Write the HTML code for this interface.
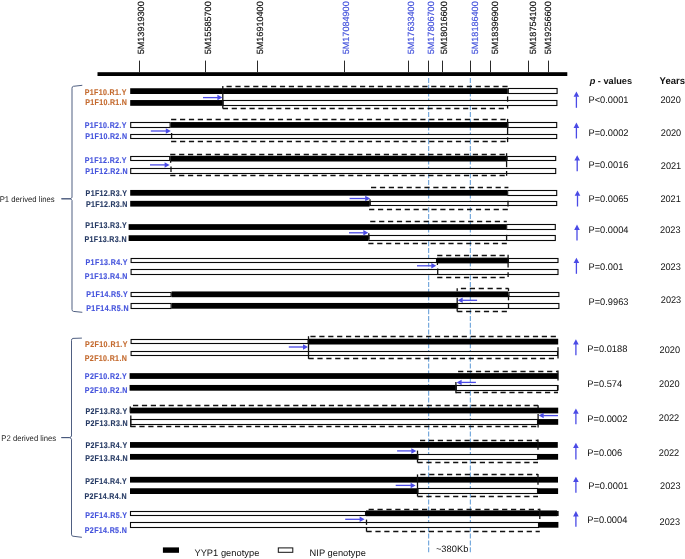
<!DOCTYPE html>
<html><head><meta charset="utf-8"><title>Genotype map</title>
<style>
html,body{margin:0;padding:0;background:#fff;}
body{width:685px;height:559px;overflow:hidden;}
svg{display:block;font-family:"Liberation Sans",Arial,sans-serif;text-rendering:geometricPrecision;}
</style></head><body>
<svg width="685" height="559" viewBox="0 0 685 559">
<rect width="685" height="559" fill="#fff"/>
<rect x="97.5" y="72.2" width="469.8" height="3.8" fill="#000"/>
<line x1="139.5" y1="60.6" x2="139.5" y2="72.4" stroke="#2a2a2a" stroke-width="1"/>
<text transform="translate(144.1 54.3) rotate(-90)" fill="#111" stroke="#111" stroke-width="0.15" font-size="9" textLength="53" lengthAdjust="spacingAndGlyphs">5M13919300</text>
<line x1="205.5" y1="60.6" x2="205.5" y2="72.4" stroke="#2a2a2a" stroke-width="1"/>
<text transform="translate(210.7 54.3) rotate(-90)" fill="#111" stroke="#111" stroke-width="0.15" font-size="9" textLength="53" lengthAdjust="spacingAndGlyphs">5M15585700</text>
<line x1="257.5" y1="60.6" x2="257.5" y2="72.4" stroke="#2a2a2a" stroke-width="1"/>
<text transform="translate(262.5 54.3) rotate(-90)" fill="#111" stroke="#111" stroke-width="0.15" font-size="9" textLength="53" lengthAdjust="spacingAndGlyphs">5M16910400</text>
<line x1="344.5" y1="60.6" x2="344.5" y2="72.4" stroke="#2a2a2a" stroke-width="1"/>
<text transform="translate(349.2 54.3) rotate(-90)" fill="#4352dc" stroke="#4352dc" stroke-width="0.15" font-size="9" textLength="53" lengthAdjust="spacingAndGlyphs">5M17084900</text>
<line x1="408.5" y1="60.6" x2="408.5" y2="72.4" stroke="#2a2a2a" stroke-width="1"/>
<text transform="translate(414.1 54.3) rotate(-90)" fill="#4352dc" stroke="#4352dc" stroke-width="0.15" font-size="9" textLength="53" lengthAdjust="spacingAndGlyphs">5M17633400</text>
<line x1="428.5" y1="60.6" x2="428.5" y2="72.4" stroke="#2a2a2a" stroke-width="1"/>
<text transform="translate(433.8 54.3) rotate(-90)" fill="#4352dc" stroke="#4352dc" stroke-width="0.15" font-size="9" textLength="53" lengthAdjust="spacingAndGlyphs">5M17806700</text>
<line x1="442.5" y1="60.6" x2="442.5" y2="72.4" stroke="#2a2a2a" stroke-width="1"/>
<text transform="translate(446.9 54.3) rotate(-90)" fill="#111" stroke="#111" stroke-width="0.15" font-size="9" textLength="53" lengthAdjust="spacingAndGlyphs">5M18016600</text>
<line x1="470.5" y1="60.6" x2="470.5" y2="72.4" stroke="#2a2a2a" stroke-width="1"/>
<text transform="translate(478.1 54.3) rotate(-90)" fill="#4352dc" stroke="#4352dc" stroke-width="0.15" font-size="9" textLength="53" lengthAdjust="spacingAndGlyphs">5M18186400</text>
<line x1="490.5" y1="60.6" x2="490.5" y2="72.4" stroke="#2a2a2a" stroke-width="1"/>
<text transform="translate(497.7 54.3) rotate(-90)" fill="#111" stroke="#111" stroke-width="0.15" font-size="9" textLength="53" lengthAdjust="spacingAndGlyphs">5M18396900</text>
<line x1="528.5" y1="60.6" x2="528.5" y2="72.4" stroke="#2a2a2a" stroke-width="1"/>
<text transform="translate(535.7 54.3) rotate(-90)" fill="#111" stroke="#111" stroke-width="0.15" font-size="9" textLength="53" lengthAdjust="spacingAndGlyphs">5M18754100</text>
<line x1="548.5" y1="60.6" x2="548.5" y2="72.4" stroke="#2a2a2a" stroke-width="1"/>
<text transform="translate(551.1 54.3) rotate(-90)" fill="#111" stroke="#111" stroke-width="0.15" font-size="9" textLength="53" lengthAdjust="spacingAndGlyphs">5M19256600</text>
<line x1="428.65" y1="78" x2="428.65" y2="552.6" stroke="#6aa2da" stroke-width="1.1" stroke-dasharray="5 1.8"/>
<line x1="470.35" y1="78" x2="470.35" y2="552.6" stroke="#6aa2da" stroke-width="1.1" stroke-dasharray="5 1.8"/>
<rect x="130.2" y="88.25" width="377.6" height="5.75" fill="#000"/>
<rect x="508.3" y="88.5" width="48.8" height="5" fill="#fff" stroke="#0a0a0a" stroke-width="1.1"/>
<rect x="130.2" y="100.05" width="92.4" height="5.75" fill="#000"/>
<rect x="223.1" y="100.5" width="333.8" height="5" fill="#fff" stroke="#0a0a0a" stroke-width="1.1"/>
<line x1="222.8" y1="86.5" x2="507.6" y2="86.5" stroke="#111" stroke-width="1.3" stroke-dasharray="5.2 3.7" stroke-dashoffset="5.2"/>
<line x1="222.8" y1="108.5" x2="507.6" y2="108.5" stroke="#111" stroke-width="1.3" stroke-dasharray="5.2 3.7" stroke-dashoffset="0"/>
<line x1="222.8" y1="86" x2="222.8" y2="108.6" stroke="#111" stroke-width="1.3"/>
<line x1="507.6" y1="96.4" x2="507.6" y2="101.7" stroke="#111" stroke-width="1.3"/>
<line x1="507.6" y1="105.2" x2="507.6" y2="108.6" stroke="#111" stroke-width="1.3"/>
<line x1="203" y1="97.6" x2="217.9" y2="97.6" stroke="#4a4ae6" stroke-width="1.3"/>
<path d="M222.4 97.6L217.4 94.85L217.4 100.35Z" fill="#4a4ae6"/>
<text transform="translate(84.7 94.9) scale(0.85 1)" fill="#c46a2e" stroke="#c46a2e" stroke-width="0.15" font-weight="bold" font-size="8.3" textLength="49.06">P1F10.R1.Y</text>
<text transform="translate(85.35 105) scale(0.85 1)" fill="#c46a2e" stroke="#c46a2e" stroke-width="0.15" font-weight="bold" font-size="8.3" textLength="48.88">P1F10.R1.N</text>
<line x1="576.4" y1="96.3" x2="576.4" y2="107.8" stroke="#4a4ae6" stroke-width="1.3"/>
<path d="M576.4 91.5L573.6 96.8L579.2 96.8Z" fill="#4a4ae6"/>
<text transform="translate(588.5 102.6) scale(0.968 1)" font-size="9.6" fill="#111">P<0.0001</text>
<text transform="translate(660.4 103.1) scale(0.96 1)" font-size="9.55" fill="#111">2020</text>
<rect x="130.7" y="122.5" width="39.4" height="5" fill="#fff" stroke="#0a0a0a" stroke-width="1.1"/>
<rect x="170.6" y="122.05" width="336.8" height="5.75" fill="#000"/>
<rect x="507.9" y="122.5" width="48.8" height="5" fill="#fff" stroke="#0a0a0a" stroke-width="1.1"/>
<rect x="130.7" y="134.5" width="426" height="4" fill="#fff" stroke="#0a0a0a" stroke-width="1.1"/>
<line x1="171.1" y1="119.5" x2="507.6" y2="119.5" stroke="#111" stroke-width="1.3" stroke-dasharray="5.2 3.7" stroke-dashoffset="0"/>
<line x1="171.1" y1="141.5" x2="507.6" y2="141.5" stroke="#111" stroke-width="1.3" stroke-dasharray="5.2 3.7" stroke-dashoffset="0"/>
<line x1="171.6" y1="133" x2="171.6" y2="138.6" stroke="#111" stroke-width="1.3"/>
<line x1="507.6" y1="118.9" x2="507.6" y2="134.3" stroke="#111" stroke-width="1.3"/>
<line x1="507.6" y1="137.3" x2="507.6" y2="142.1" stroke="#111" stroke-width="1.3"/>
<line x1="150.8" y1="131" x2="166.3" y2="131" stroke="#4a4ae6" stroke-width="1.3"/>
<path d="M170.8 131L165.8 128.25L165.8 133.75Z" fill="#4a4ae6"/>
<text transform="translate(84.8 128.2) scale(0.85 1)" fill="#4352dc" stroke="#4352dc" stroke-width="0.15" font-weight="bold" font-size="8.3" textLength="48.94">P1F10.R2.Y</text>
<text transform="translate(85.3 138.6) scale(0.85 1)" fill="#4352dc" stroke="#4352dc" stroke-width="0.15" font-weight="bold" font-size="8.3" textLength="49.06">P1F10.R2.N</text>
<line x1="576.4" y1="127.4" x2="576.4" y2="138.5" stroke="#4a4ae6" stroke-width="1.3"/>
<path d="M576.4 122.6L573.6 127.9L579.2 127.9Z" fill="#4a4ae6"/>
<text transform="translate(588.5 136) scale(0.968 1)" font-size="9.6" fill="#111">P=0.0002</text>
<text transform="translate(660.8 135.6) scale(0.96 1)" font-size="9.55" fill="#111">2020</text>
<rect x="130.7" y="156.5" width="39" height="4" fill="#fff" stroke="#0a0a0a" stroke-width="1.1"/>
<rect x="170.2" y="155.75" width="336.4" height="5.75" fill="#000"/>
<rect x="507.1" y="156.5" width="48.6" height="4" fill="#fff" stroke="#0a0a0a" stroke-width="1.1"/>
<rect x="130.7" y="168.5" width="425" height="5" fill="#fff" stroke="#0a0a0a" stroke-width="1.1"/>
<line x1="170.2" y1="154.5" x2="506.8" y2="154.5" stroke="#111" stroke-width="1.3" stroke-dasharray="5.2 3.7" stroke-dashoffset="0"/>
<line x1="170.2" y1="175.5" x2="506.8" y2="175.5" stroke="#111" stroke-width="1.3" stroke-dasharray="5.2 3.7" stroke-dashoffset="0"/>
<line x1="171" y1="166.6" x2="171" y2="172" stroke="#111" stroke-width="1.3"/>
<line x1="170.6" y1="161" x2="170.6" y2="162.8" stroke="#111" stroke-width="1.3"/>
<line x1="506.6" y1="153.2" x2="506.6" y2="167.2" stroke="#111" stroke-width="1.3"/>
<line x1="506.6" y1="171" x2="506.6" y2="175.8" stroke="#111" stroke-width="1.3"/>
<line x1="150" y1="164.9" x2="165.1" y2="164.9" stroke="#4a4ae6" stroke-width="1.3"/>
<path d="M169.6 164.9L164.6 162.15L164.6 167.65Z" fill="#4a4ae6"/>
<text transform="translate(84.8 162.8) scale(0.85 1)" fill="#4352dc" stroke="#4352dc" stroke-width="0.15" font-weight="bold" font-size="8.3" textLength="49.06">P1F12.R2.Y</text>
<text transform="translate(85.2 173.5) scale(0.85 1)" fill="#4352dc" stroke="#4352dc" stroke-width="0.15" font-weight="bold" font-size="8.3" textLength="49.88">P1F12.R2.N</text>
<line x1="577.2" y1="160.1" x2="577.2" y2="171.2" stroke="#4a4ae6" stroke-width="1.3"/>
<path d="M577.2 155.3L574.4 160.6L580 160.6Z" fill="#4a4ae6"/>
<text transform="translate(588.5 168.4) scale(0.968 1)" font-size="9.6" fill="#111">P=0.0016</text>
<text transform="translate(660.8 169.1) scale(0.96 1)" font-size="9.55" fill="#111">2021</text>
<rect x="130.2" y="189.95" width="377" height="5.75" fill="#000"/>
<rect x="507.7" y="190.5" width="49" height="5" fill="#fff" stroke="#0a0a0a" stroke-width="1.1"/>
<rect x="130.2" y="200.85" width="239.4" height="5.75" fill="#000"/>
<rect x="370.1" y="201.5" width="186.6" height="4" fill="#fff" stroke="#0a0a0a" stroke-width="1.1"/>
<line x1="369.1" y1="187.5" x2="508.4" y2="187.5" stroke="#111" stroke-width="1.3" stroke-dasharray="5.2 3.7" stroke-dashoffset="7"/>
<line x1="369.1" y1="209.5" x2="508.4" y2="209.5" stroke="#111" stroke-width="1.3" stroke-dasharray="5.2 3.7" stroke-dashoffset="0"/>
<line x1="370" y1="199.3" x2="370" y2="205.8" stroke="#111" stroke-width="1.3"/>
<line x1="508" y1="200.8" x2="508" y2="206.6" stroke="#111" stroke-width="1.3"/>
<line x1="349.6" y1="198.5" x2="365.7" y2="198.5" stroke="#4a4ae6" stroke-width="1.3"/>
<path d="M370.2 198.5L365.2 195.75L365.2 201.25Z" fill="#4a4ae6"/>
<text transform="translate(85.6 196) scale(0.85 1)" fill="#263a64" stroke="#263a64" stroke-width="0.15" font-weight="bold" font-size="8.3" textLength="48.71">P1F12.R3.Y</text>
<text transform="translate(86 206.95) scale(0.85 1)" fill="#263a64" stroke="#263a64" stroke-width="0.15" font-weight="bold" font-size="8.3" textLength="48.71">P1F12.R3.N</text>
<line x1="577.5" y1="195.2" x2="577.5" y2="206.5" stroke="#4a4ae6" stroke-width="1.3"/>
<path d="M577.5 190.4L574.7 195.7L580.3 195.7Z" fill="#4a4ae6"/>
<text transform="translate(588.5 201.5) scale(0.968 1)" font-size="9.6" fill="#111">P=0.0065</text>
<text transform="translate(660.4 202.3) scale(0.96 1)" font-size="9.55" fill="#111">2021</text>
<rect x="128.6" y="224.15" width="377.6" height="5.75" fill="#000"/>
<rect x="506.7" y="224.5" width="48.6" height="5" fill="#fff" stroke="#0a0a0a" stroke-width="1.1"/>
<rect x="128.6" y="235.25" width="239.8" height="5.75" fill="#000"/>
<rect x="368.9" y="235.5" width="186.4" height="5" fill="#fff" stroke="#0a0a0a" stroke-width="1.1"/>
<line x1="368.3" y1="221.5" x2="506.8" y2="221.5" stroke="#111" stroke-width="1.3" stroke-dasharray="5.2 3.7" stroke-dashoffset="7"/>
<line x1="368.3" y1="243.5" x2="506.8" y2="243.5" stroke="#111" stroke-width="1.3" stroke-dasharray="5.2 3.7" stroke-dashoffset="0"/>
<line x1="368.8" y1="233.2" x2="368.8" y2="239.2" stroke="#111" stroke-width="1.3"/>
<line x1="506.6" y1="234.8" x2="506.6" y2="240.8" stroke="#111" stroke-width="1.3"/>
<line x1="349" y1="232.8" x2="363.8" y2="232.8" stroke="#4a4ae6" stroke-width="1.3"/>
<path d="M368.3 232.8L363.3 230.05L363.3 235.55Z" fill="#4a4ae6"/>
<text transform="translate(85.2 228.2) scale(0.85 1)" fill="#263a64" stroke="#263a64" stroke-width="0.15" font-weight="bold" font-size="8.3" textLength="48.94">P1F13.R3.Y</text>
<text transform="translate(84.4 242.1) scale(0.85 1)" fill="#263a64" stroke="#263a64" stroke-width="0.15" font-weight="bold" font-size="8.3" textLength="49.53">P1F13.R3.N</text>
<line x1="577" y1="229.4" x2="577" y2="240.5" stroke="#4a4ae6" stroke-width="1.3"/>
<path d="M577 224.6L574.2 229.9L579.8 229.9Z" fill="#4a4ae6"/>
<text transform="translate(588.5 233) scale(0.968 1)" font-size="9.6" fill="#111">P=0.0004</text>
<text transform="translate(660.1 233.1) scale(0.96 1)" font-size="9.55" fill="#111">2023</text>
<rect x="131.1" y="258.5" width="305.4" height="4" fill="#fff" stroke="#0a0a0a" stroke-width="1.1"/>
<rect x="437" y="257.65" width="71" height="5.75" fill="#000"/>
<rect x="508.5" y="258.5" width="49.5" height="4" fill="#fff" stroke="#0a0a0a" stroke-width="1.1"/>
<rect x="131.1" y="269.5" width="426.9" height="5" fill="#fff" stroke="#0a0a0a" stroke-width="1.1"/>
<line x1="437.2" y1="255.5" x2="508.1" y2="255.5" stroke="#111" stroke-width="1.3" stroke-dasharray="5.2 3.7" stroke-dashoffset="0"/>
<line x1="437.2" y1="277.5" x2="508.1" y2="277.5" stroke="#111" stroke-width="1.3" stroke-dasharray="5.2 3.7" stroke-dashoffset="0"/>
<line x1="437.7" y1="268.4" x2="437.7" y2="274.8" stroke="#111" stroke-width="1.3"/>
<line x1="437.4" y1="263" x2="437.4" y2="265" stroke="#111" stroke-width="1.3"/>
<line x1="508.1" y1="254.7" x2="508.1" y2="267.5" stroke="#111" stroke-width="1.3"/>
<line x1="508.1" y1="272.2" x2="508.1" y2="276.9" stroke="#111" stroke-width="1.3"/>
<line x1="417" y1="265.8" x2="431.8" y2="265.8" stroke="#4a4ae6" stroke-width="1.3"/>
<path d="M436.3 265.8L431.3 263.05L431.3 268.55Z" fill="#4a4ae6"/>
<text transform="translate(85.5 265.3) scale(0.85 1)" fill="#4352dc" stroke="#4352dc" stroke-width="0.15" font-weight="bold" font-size="8.3" textLength="49.53">P1F13.R4.Y</text>
<text transform="translate(84.8 279.3) scale(0.85 1)" fill="#4352dc" stroke="#4352dc" stroke-width="0.15" font-weight="bold" font-size="8.3" textLength="50.12">P1F13.R4.N</text>
<line x1="576.4" y1="262.6" x2="576.4" y2="273.8" stroke="#4a4ae6" stroke-width="1.3"/>
<path d="M576.4 257.8L573.6 263.1L579.2 263.1Z" fill="#4a4ae6"/>
<text transform="translate(588.5 270) scale(0.968 1)" font-size="9.6" fill="#111">P=0.001</text>
<text transform="translate(660.4 270) scale(0.96 1)" font-size="9.55" fill="#111">2023</text>
<rect x="131.1" y="292.5" width="40" height="4" fill="#fff" stroke="#0a0a0a" stroke-width="1.1"/>
<rect x="171.6" y="291.45" width="336.9" height="5.75" fill="#000"/>
<rect x="509" y="292.5" width="49.9" height="4" fill="#fff" stroke="#0a0a0a" stroke-width="1.1"/>
<rect x="131.1" y="303.5" width="40" height="5" fill="#fff" stroke="#0a0a0a" stroke-width="1.1"/>
<rect x="171.6" y="302.95" width="285.6" height="5.75" fill="#000"/>
<rect x="457.7" y="303.5" width="101.2" height="5" fill="#fff" stroke="#0a0a0a" stroke-width="1.1"/>
<line x1="457.2" y1="288.5" x2="508.5" y2="288.5" stroke="#111" stroke-width="1.3" stroke-dasharray="5.2 3.7" stroke-dashoffset="5.2"/>
<line x1="457.2" y1="311.5" x2="508.5" y2="311.5" stroke="#111" stroke-width="1.3" stroke-dasharray="5.2 3.7" stroke-dashoffset="0"/>
<line x1="457.2" y1="288.3" x2="457.2" y2="291.2" stroke="#111" stroke-width="1.3"/>
<line x1="457.2" y1="297.8" x2="457.2" y2="311.6" stroke="#111" stroke-width="1.3"/>
<line x1="508.5" y1="288.3" x2="508.5" y2="291" stroke="#111" stroke-width="1.3"/>
<line x1="508.5" y1="295.2" x2="508.5" y2="300.3" stroke="#111" stroke-width="1.3"/>
<line x1="508.5" y1="303.4" x2="508.5" y2="308.6" stroke="#111" stroke-width="1.3"/>
<line x1="477.1" y1="300.3" x2="462.2" y2="300.3" stroke="#4a4ae6" stroke-width="1.3"/>
<path d="M457.7 300.3L462.7 297.55L462.7 303.05Z" fill="#4a4ae6"/>
<text transform="translate(86.3 297) scale(0.85 1)" fill="#4352dc" stroke="#4352dc" stroke-width="0.15" font-weight="bold" font-size="8.3" textLength="48.82">P1F14.R5.Y</text>
<text transform="translate(86.3 310.9) scale(0.85 1)" fill="#4352dc" stroke="#4352dc" stroke-width="0.15" font-weight="bold" font-size="8.3" textLength="49.65">P1F14.R5.N</text>
<text transform="translate(588.5 304.8) scale(0.968 1)" font-size="9.6" fill="#111">P=0.9963</text>
<text transform="translate(660.8 302.7) scale(0.96 1)" font-size="9.55" fill="#111">2023</text>
<rect x="131.1" y="339.5" width="177" height="4" fill="#fff" stroke="#0a0a0a" stroke-width="1.1"/>
<rect x="308.6" y="338.75" width="249.6" height="5.75" fill="#000"/>
<rect x="131.1" y="351.5" width="426.4" height="4" fill="#fff" stroke="#0a0a0a" stroke-width="1.1"/>
<line x1="308.5" y1="336.5" x2="557" y2="336.5" stroke="#111" stroke-width="1.3" stroke-dasharray="5.2 3.7" stroke-dashoffset="7"/>
<line x1="308.5" y1="358.5" x2="557" y2="358.5" stroke="#111" stroke-width="1.3" stroke-dasharray="5.2 3.7" stroke-dashoffset="0"/>
<line x1="308.5" y1="336.2" x2="308.5" y2="358.8" stroke="#111" stroke-width="1.3"/>
<line x1="558" y1="347.2" x2="558" y2="358.4" stroke="#111" stroke-width="1.3"/>
<line x1="288.8" y1="347" x2="303.5" y2="347" stroke="#4a4ae6" stroke-width="1.3"/>
<path d="M308 347L303 344.25L303 349.75Z" fill="#4a4ae6"/>
<text transform="translate(85 346.8) scale(0.85 1)" fill="#c46a2e" stroke="#c46a2e" stroke-width="0.15" font-weight="bold" font-size="8.3" textLength="49.88">P2F10.R1.Y</text>
<text transform="translate(84.8 360.8) scale(0.85 1)" fill="#c46a2e" stroke="#c46a2e" stroke-width="0.15" font-weight="bold" font-size="8.3" textLength="49.41">P2F10.R1.N</text>
<line x1="575.9" y1="344" x2="575.9" y2="355.2" stroke="#4a4ae6" stroke-width="1.3"/>
<path d="M575.9 339.2L573.1 344.5L578.7 344.5Z" fill="#4a4ae6"/>
<text transform="translate(587.3 351.8) scale(0.968 1)" font-size="9.6" fill="#111">P=0.0188</text>
<text transform="translate(659.6 352.7) scale(0.96 1)" font-size="9.55" fill="#111">2020</text>
<rect x="129.6" y="373.15" width="428.6" height="5.75" fill="#000"/>
<rect x="129.6" y="384.95" width="326.2" height="5.75" fill="#000"/>
<rect x="456.3" y="385.5" width="101.2" height="5" fill="#fff" stroke="#0a0a0a" stroke-width="1.1"/>
<line x1="456" y1="371.5" x2="558" y2="371.5" stroke="#111" stroke-width="1.3" stroke-dasharray="5.2 3.7" stroke-dashoffset="6.8"/>
<line x1="456" y1="392.5" x2="558" y2="392.5" stroke="#111" stroke-width="1.3" stroke-dasharray="5.2 3.7" stroke-dashoffset="0"/>
<line x1="455.9" y1="382" x2="455.9" y2="393.3" stroke="#111" stroke-width="1.3"/>
<line x1="558" y1="370.5" x2="558" y2="380.4" stroke="#111" stroke-width="1.3"/>
<line x1="558" y1="385" x2="558" y2="390.6" stroke="#111" stroke-width="1.3"/>
<line x1="475.9" y1="382.4" x2="461.1" y2="382.4" stroke="#4a4ae6" stroke-width="1.3"/>
<path d="M456.6 382.4L461.6 379.65L461.6 385.15Z" fill="#4a4ae6"/>
<text transform="translate(84.8 378.7) scale(0.85 1)" fill="#4352dc" stroke="#4352dc" stroke-width="0.15" font-weight="bold" font-size="8.3" textLength="49.41">P2F10.R2.Y</text>
<text transform="translate(84.8 392.8) scale(0.85 1)" fill="#4352dc" stroke="#4352dc" stroke-width="0.15" font-weight="bold" font-size="8.3" textLength="50.12">P2F10.R2.N</text>
<text transform="translate(587.3 386.6) scale(0.968 1)" font-size="9.6" fill="#111">P=0.574</text>
<text transform="translate(659.1 386.7) scale(0.96 1)" font-size="9.55" fill="#111">2020</text>
<rect x="129.9" y="407.65" width="428.3" height="5.75" fill="#000"/>
<rect x="130.7" y="419.5" width="406.8" height="5" fill="#fff" stroke="#0a0a0a" stroke-width="1.1"/>
<rect x="538" y="419.05" width="20.2" height="5.75" fill="#000"/>
<line x1="130.5" y1="405.5" x2="538" y2="405.5" stroke="#111" stroke-width="1.3" stroke-dasharray="5.2 3.7" stroke-dashoffset="6.4"/>
<line x1="130.5" y1="426.5" x2="538" y2="426.5" stroke="#111" stroke-width="1.3" stroke-dasharray="5.2 3.7" stroke-dashoffset="0"/>
<line x1="130.3" y1="406.6" x2="130.3" y2="412.6" stroke="#111" stroke-width="1.3"/>
<line x1="130.8" y1="415.6" x2="130.8" y2="427" stroke="#111" stroke-width="1.3"/>
<line x1="538.1" y1="405.3" x2="538.1" y2="408.5" stroke="#111" stroke-width="1.3"/>
<line x1="538.1" y1="414" x2="538.1" y2="419.3" stroke="#111" stroke-width="1.3"/>
<line x1="538.1" y1="424.5" x2="538.1" y2="427.4" stroke="#111" stroke-width="1.3"/>
<line x1="558" y1="415.6" x2="543.2" y2="415.6" stroke="#4a4ae6" stroke-width="1.3"/>
<path d="M538.7 415.6L543.7 412.85L543.7 418.35Z" fill="#4a4ae6"/>
<text transform="translate(85.5 413.5) scale(0.85 1)" fill="#263a64" stroke="#263a64" stroke-width="0.15" font-weight="bold" font-size="8.3" textLength="48.94">P2F13.R3.Y</text>
<text transform="translate(85.5 425.8) scale(0.85 1)" fill="#263a64" stroke="#263a64" stroke-width="0.15" font-weight="bold" font-size="8.3" textLength="49.53">P2F13.R3.N</text>
<line x1="575.9" y1="413.2" x2="575.9" y2="424.3" stroke="#4a4ae6" stroke-width="1.3"/>
<path d="M575.9 408.4L573.1 413.7L578.7 413.7Z" fill="#4a4ae6"/>
<text transform="translate(587.3 421.5) scale(0.968 1)" font-size="9.6" fill="#111">P=0.0002</text>
<text transform="translate(658.8 421) scale(0.96 1)" font-size="9.55" fill="#111">2022</text>
<rect x="130" y="442.05" width="427.8" height="5.75" fill="#000"/>
<rect x="130" y="453.95" width="287.5" height="5.75" fill="#000"/>
<rect x="418" y="454.5" width="119.5" height="5" fill="#fff" stroke="#0a0a0a" stroke-width="1.1"/>
<rect x="538" y="453.95" width="20.1" height="5.75" fill="#000"/>
<line x1="417.5" y1="440.5" x2="538" y2="440.5" stroke="#111" stroke-width="1.3" stroke-dasharray="5.2 3.7" stroke-dashoffset="6.4"/>
<line x1="417.5" y1="462.5" x2="538" y2="462.5" stroke="#111" stroke-width="1.3" stroke-dasharray="5.2 3.7" stroke-dashoffset="0"/>
<line x1="417.5" y1="450.6" x2="417.5" y2="462.5" stroke="#111" stroke-width="1.3"/>
<line x1="538" y1="439.5" x2="538" y2="449.8" stroke="#111" stroke-width="1.3"/>
<line x1="397.1" y1="450.9" x2="411.8" y2="450.9" stroke="#4a4ae6" stroke-width="1.3"/>
<path d="M416.3 450.9L411.3 448.15L411.3 453.65Z" fill="#4a4ae6"/>
<text transform="translate(85.5 448.1) scale(0.85 1)" fill="#263a64" stroke="#263a64" stroke-width="0.15" font-weight="bold" font-size="8.3" textLength="48.94">P2F13.R4.Y</text>
<text transform="translate(85.2 461) scale(0.85 1)" fill="#263a64" stroke="#263a64" stroke-width="0.15" font-weight="bold" font-size="8.3" textLength="49.88">P2F13.R4.N</text>
<line x1="575.9" y1="447.6" x2="575.9" y2="459.6" stroke="#4a4ae6" stroke-width="1.3"/>
<path d="M575.9 442.8L573.1 448.1L578.7 448.1Z" fill="#4a4ae6"/>
<text transform="translate(587.3 456.1) scale(0.968 1)" font-size="9.6" fill="#111">P=0.006</text>
<text transform="translate(658.8 456) scale(0.96 1)" font-size="9.55" fill="#111">2022</text>
<rect x="130" y="476.85" width="428" height="5.75" fill="#000"/>
<rect x="130" y="488.25" width="287.5" height="5.75" fill="#000"/>
<rect x="418" y="488.5" width="119.5" height="5" fill="#fff" stroke="#0a0a0a" stroke-width="1.1"/>
<rect x="538" y="488.25" width="20.1" height="5.75" fill="#000"/>
<line x1="417.5" y1="474.5" x2="538" y2="474.5" stroke="#111" stroke-width="1.3" stroke-dasharray="5.2 3.7" stroke-dashoffset="6.1"/>
<line x1="417.5" y1="496.5" x2="538" y2="496.5" stroke="#111" stroke-width="1.3" stroke-dasharray="5.2 3.7" stroke-dashoffset="0"/>
<line x1="417.5" y1="474.4" x2="417.5" y2="496.4" stroke="#111" stroke-width="1.3"/>
<line x1="538" y1="474.1" x2="538" y2="484.8" stroke="#111" stroke-width="1.3"/>
<line x1="395.7" y1="485.4" x2="411.1" y2="485.4" stroke="#4a4ae6" stroke-width="1.3"/>
<path d="M415.6 485.4L410.6 482.65L410.6 488.15Z" fill="#4a4ae6"/>
<text transform="translate(85.2 484.2) scale(0.85 1)" fill="#263a64" stroke="#263a64" stroke-width="0.15" font-weight="bold" font-size="8.3" textLength="48.94">P2F14.R4.Y</text>
<text transform="translate(84.4 498.6) scale(0.85 1)" fill="#263a64" stroke="#263a64" stroke-width="0.15" font-weight="bold" font-size="8.3" textLength="49.53">P2F14.R4.N</text>
<line x1="575.9" y1="481.5" x2="575.9" y2="492.7" stroke="#4a4ae6" stroke-width="1.3"/>
<path d="M575.9 476.7L573.1 482L578.7 482Z" fill="#4a4ae6"/>
<text transform="translate(588.2 489) scale(0.968 1)" font-size="9.6" fill="#111">P=0.0001</text>
<text transform="translate(660.1 489) scale(0.96 1)" font-size="9.55" fill="#111">2023</text>
<rect x="130.5" y="511.5" width="235" height="4" fill="#fff" stroke="#0a0a0a" stroke-width="1.1"/>
<rect x="366" y="510.45" width="191" height="5.75" fill="#000"/>
<rect x="557.1" y="511.5" width="1" height="4" fill="#fff" stroke="#0a0a0a" stroke-width="1.1"/>
<rect x="130.5" y="522.5" width="408" height="5" fill="#fff" stroke="#0a0a0a" stroke-width="1.1"/>
<rect x="539" y="521.95" width="19.4" height="5.75" fill="#000"/>
<line x1="366.5" y1="509.5" x2="539.8" y2="509.5" stroke="#111" stroke-width="1.3" stroke-dasharray="5.2 3.7" stroke-dashoffset="6.8"/>
<line x1="366.5" y1="531.5" x2="539.8" y2="531.5" stroke="#111" stroke-width="1.3" stroke-dasharray="5.2 3.7" stroke-dashoffset="0"/>
<line x1="366.5" y1="519.6" x2="366.5" y2="524.9" stroke="#111" stroke-width="1.3"/>
<line x1="366.5" y1="527.4" x2="366.5" y2="531.6" stroke="#111" stroke-width="1.3"/>
<line x1="539.8" y1="508.7" x2="539.8" y2="519" stroke="#111" stroke-width="1.3"/>
<line x1="345.2" y1="519.3" x2="360.1" y2="519.3" stroke="#4a4ae6" stroke-width="1.3"/>
<path d="M364.6 519.3L359.6 516.55L359.6 522.05Z" fill="#4a4ae6"/>
<text transform="translate(85.2 518.2) scale(0.85 1)" fill="#4352dc" stroke="#4352dc" stroke-width="0.15" font-weight="bold" font-size="8.3" textLength="49.29">P2F14.R5.Y</text>
<text transform="translate(84.8 532.7) scale(0.85 1)" fill="#4352dc" stroke="#4352dc" stroke-width="0.15" font-weight="bold" font-size="8.3" textLength="49.41">P2F14.R5.N</text>
<line x1="575.9" y1="515.9" x2="575.9" y2="526.7" stroke="#4a4ae6" stroke-width="1.3"/>
<path d="M575.9 511.1L573.1 516.4L578.7 516.4Z" fill="#4a4ae6"/>
<text transform="translate(587.3 522.9) scale(0.968 1)" font-size="9.6" fill="#111">P=0.0004</text>
<text transform="translate(659.6 524.6) scale(0.96 1)" font-size="9.55" fill="#111">2023</text>
<text x="589.7" y="83.8" font-size="9.2" font-weight="bold" fill="#111"><tspan font-style="italic">p</tspan> - values</text>
<text transform="translate(659.6 83.8) scale(0.97 1)" font-size="9.8" font-weight="bold" fill="#111">Years</text>
<path d="M82.3 85.3 L73.4 86.3 Q72 86.5 72 88.3 L72 197.2 Q72 198.2 70 198.8 L61.4 198.8 M61.4 198.8 L70 198.8 Q72 199.4 72 200.4 L72 309.4 Q72 311.2 73.4 311.4 L82.3 312.3" fill="none" stroke="#46567a" stroke-width="0.95" stroke-linejoin="round"/>
<path d="M81.9 338.1 L72.9 338.4 Q71.5 338.6 71.5 340.4 L71.5 436 Q71.5 437 69.5 437.6 L61.4 437.6 M61.4 437.6 L69.5 437.6 Q71.5 438.2 71.5 439.2 L71.5 534.2 Q71.5 536 72.9 536.2 L81.9 537.3" fill="none" stroke="#46567a" stroke-width="0.95" stroke-linejoin="round"/>
<text transform="translate(-0.3 201.7) scale(0.935 1)" font-size="8.25" fill="#222">P1 derived lines</text>
<text transform="translate(1.3 440.8) scale(0.935 1)" font-size="8.25" fill="#222">P2 derived lines</text>
<rect x="162.9" y="547.4" width="16.1" height="5.4" fill="#000"/>
<text x="194.4" y="556" font-size="9.3" fill="#111" textLength="65">YYP1 genotype</text>
<rect x="278.3" y="547.9" width="14.5" height="4.4" fill="#fff" stroke="#111" stroke-width="1"/>
<text x="309.6" y="555.6" font-size="9.3" fill="#111" textLength="56.2">NIP genotype</text>
<text x="435.9" y="552.1" font-size="9.3" fill="#111" textLength="32.4">~380Kb</text>
</svg>
</body></html>
